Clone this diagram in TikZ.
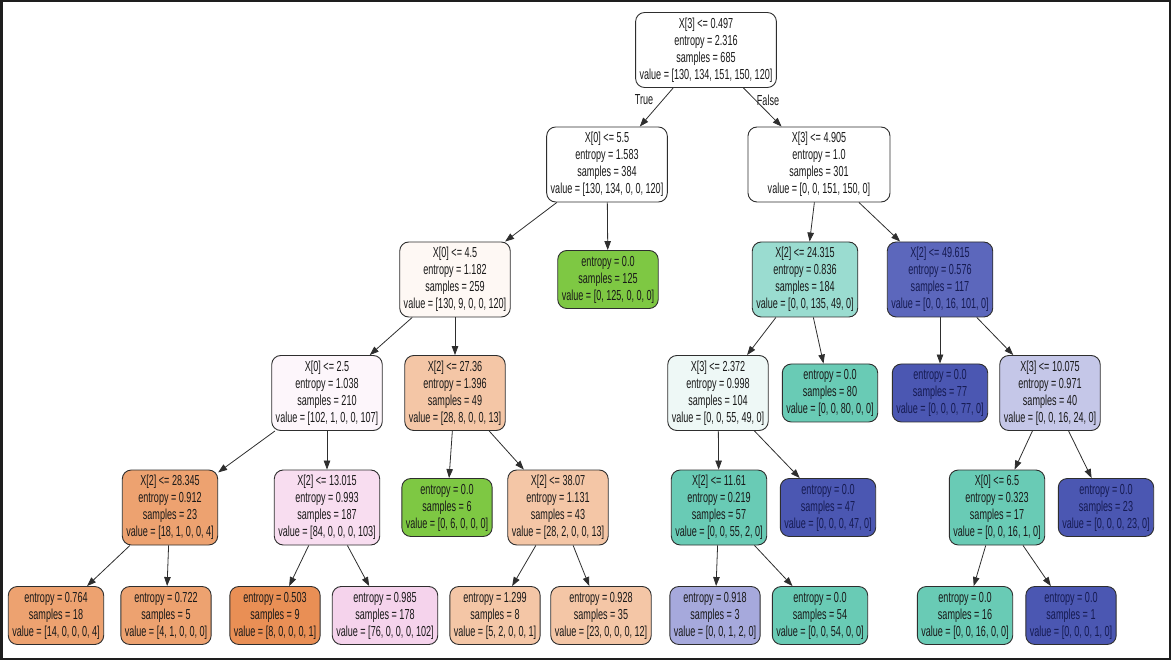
\documentclass[tikz,border=0pt]{standalone}
\usepackage{fontspec}
\setmainfont[FakeStretch=0.625]{Liberation Sans}
\usepackage{tikz}
\usetikzlibrary{arrows.meta}
\definecolor{ink}{HTML}{2E2E2E}
\definecolor{frame}{HTML}{1E1E1E}
\definecolor{navytext}{HTML}{161B52}
\definecolor{faintorange}{HTML}{FEF8F4}
\definecolor{faintpink}{HTML}{FDF6FB}
\definecolor{pinkmid}{HTML}{F8DDF0}
\definecolor{pinkleaf}{HTML}{F5D3EC}
\definecolor{peach}{HTML}{F4C6A6}
\definecolor{orangemid}{HTML}{EDA270}
\definecolor{orangedeep}{HTML}{E98F55}
\definecolor{leafgreen}{HTML}{7EC843}
\definecolor{tealfaint}{HTML}{EEF8F6}
\definecolor{teallight}{HTML}{9ADCD0}
\definecolor{teal}{HTML}{69CBB5}
\definecolor{lavender}{HTML}{C5C7E8}
\definecolor{lavenderdk}{HTML}{A6A9DC}
\definecolor{bluemid}{HTML}{5C67BC}
\definecolor{bluedeep}{HTML}{4B57B2}

\begin{document}
\begin{tikzpicture}[x=1pt,y=-1pt,
  box/.style={draw=ink,line width=0.9pt,rounded corners=9pt,align=center,
    font=\fontsize{14.5}{17}\selectfont,text=black!90,inner xsep=4pt,inner ysep=0pt},
  split/.style={box,minimum height=75pt},
  leaf/.style={box,minimum height=58pt},
  edge/.style={draw=ink,line width=0.8pt,-{Triangle[length=9pt,width=6.5pt]}}]
  \useasboundingbox (0,0) rectangle (1171,660);
  \draw[frame,line width=2.5pt] (1.25,1.25) rectangle (1169.75,658.75);
  % Root
  \node[split,fill=white] (root) at (706,50)
    {X[3] <= 0.497\\entropy = 2.316\\samples = 685\\value = [130, 134, 151, 150, 120]};
  % Level 1
  \node[split,fill=white] (sA) at (607,164.5)
    {X[0] <= 5.5\\entropy = 1.583\\samples = 384\\value = [130, 134, 0, 0, 120]};
  \node[split,fill=white,minimum width=142pt] (sB) at (819,164.5)
    {X[3] <= 4.905\\entropy = 1.0\\samples = 301\\value = [0, 0, 151, 150, 0]};
  % Level 2
  \node[split,fill=faintorange] (sC) at (455,279.5)
    {X[0] <= 4.5\\entropy = 1.182\\samples = 259\\value = [130, 9, 0, 0, 120]};
  \node[leaf,fill=leafgreen] (lA) at (608,279.5)
    {entropy = 0.0\\samples = 125\\value = [0, 125, 0, 0, 0]};
  \node[split,fill=teallight] (sD) at (805,279.5)
    {X[2] <= 24.315\\entropy = 0.836\\samples = 184\\value = [0, 0, 135, 49, 0]};
  \node[split,fill=bluemid,text=navytext] (sE) at (940,279.5)
    {X[2] <= 49.615\\entropy = 0.576\\samples = 117\\value = [0, 0, 16, 101, 0]};
  % Level 3
  \node[split,fill=faintpink] (sF) at (327,393)
    {X[0] <= 2.5\\entropy = 1.038\\samples = 210\\value = [102, 1, 0, 0, 107]};
  \node[split,fill=peach] (sG) at (455,393)
    {X[2] <= 27.36\\entropy = 1.396\\samples = 49\\value = [28, 8, 0, 0, 13]};
  \node[split,fill=tealfaint] (sH) at (718,393)
    {X[3] <= 2.372\\entropy = 0.998\\samples = 104\\value = [0, 0, 55, 49, 0]};
  \node[leaf,fill=teal] (lB) at (830,393)
    {entropy = 0.0\\samples = 80\\value = [0, 0, 80, 0, 0]};
  \node[leaf,fill=bluedeep,text=navytext] (lC) at (940,393)
    {entropy = 0.0\\samples = 77\\value = [0, 0, 0, 77, 0]};
  \node[split,fill=lavender] (sI) at (1050,393)
    {X[3] <= 10.075\\entropy = 0.971\\samples = 40\\value = [0, 0, 16, 24, 0]};
  % Level 4
  \node[split,fill=orangemid] (sJ) at (170,507.5)
    {X[2] <= 28.345\\entropy = 0.912\\samples = 23\\value = [18, 1, 0, 0, 4]};
  \node[split,fill=pinkmid] (sK) at (327,507.5)
    {X[2] <= 13.015\\entropy = 0.993\\samples = 187\\value = [84, 0, 0, 0, 103]};
  \node[leaf,fill=leafgreen] (lD) at (447,507.5)
    {entropy = 0.0\\samples = 6\\value = [0, 6, 0, 0, 0]};
  \node[split,fill=peach] (sL) at (558,507.5)
    {X[2] <= 38.07\\entropy = 1.131\\samples = 43\\value = [28, 2, 0, 0, 13]};
  \node[split,fill=teal] (sM) at (719,507.5)
    {X[2] <= 11.61\\entropy = 0.219\\samples = 57\\value = [0, 0, 55, 2, 0]};
  \node[leaf,fill=bluedeep,text=navytext] (lE) at (828,507.5)
    {entropy = 0.0\\samples = 47\\value = [0, 0, 0, 47, 0]};
  \node[split,fill=teal] (sN) at (997,507.5)
    {X[0] <= 6.5\\entropy = 0.323\\samples = 17\\value = [0, 0, 16, 1, 0]};
  \node[leaf,fill=bluedeep,text=navytext] (lF) at (1106,507.5)
    {entropy = 0.0\\samples = 23\\value = [0, 0, 0, 23, 0]};
  % Level 5
  \node[leaf,fill=orangemid] (lG) at (56,615.5)
    {entropy = 0.764\\samples = 18\\value = [14, 0, 0, 0, 4]};
  \node[leaf,fill=orangemid] (lH) at (166,615.5)
    {entropy = 0.722\\samples = 5\\value = [4, 1, 0, 0, 0]};
  \node[leaf,fill=orangedeep] (lI) at (275,615.5)
    {entropy = 0.503\\samples = 9\\value = [8, 0, 0, 0, 1]};
  \node[leaf,fill=pinkleaf] (lJ) at (385,615.5)
    {entropy = 0.985\\samples = 178\\value = [76, 0, 0, 0, 102]};
  \node[leaf,fill=peach] (lK) at (495,615.5)
    {entropy = 1.299\\samples = 8\\value = [5, 2, 0, 0, 1]};
  \node[leaf,fill=peach] (lL) at (601,615.5)
    {entropy = 0.928\\samples = 35\\value = [23, 0, 0, 0, 12]};
  \node[leaf,fill=lavenderdk] (lM) at (715,615.5)
    {entropy = 0.918\\samples = 3\\value = [0, 0, 1, 2, 0]};
  \node[leaf,fill=teal] (lN) at (820,615.5)
    {entropy = 0.0\\samples = 54\\value = [0, 0, 54, 0, 0]};
  \node[leaf,fill=teal] (lO) at (965,615.5)
    {entropy = 0.0\\samples = 16\\value = [0, 0, 16, 0, 0]};
  \node[leaf,fill=bluedeep,text=navytext] (lP) at (1071,615.5)
    {entropy = 0.0\\samples = 1\\value = [0, 0, 0, 1, 0]};
  % Edges
  \foreach \p/\c in {root/sA,root/sB,sA/sC,sA/lA,sB/sD,sB/sE,sC/sF,sC/sG,
    sD/sH,sD/lB,sE/lC,sE/sI,sF/sJ,sF/sK,sG/lD,sG/sL,sH/sM,sH/lE,sI/sN,sI/lF,
    sJ/lG,sJ/lH,sK/lI,sK/lJ,sL/lK,sL/lL,sM/lM,sM/lN,sN/lO,sN/lP}
    \draw[edge] (\p) -- (\c);
  \node[font=\fontsize{14.5}{17}\selectfont,text=black!90] (lblT) at (644,100) {True};
  \node[font=\fontsize{14.5}{17}\selectfont,text=black!90] (lblF) at (768,100) {False};
\end{tikzpicture}
\end{document}
